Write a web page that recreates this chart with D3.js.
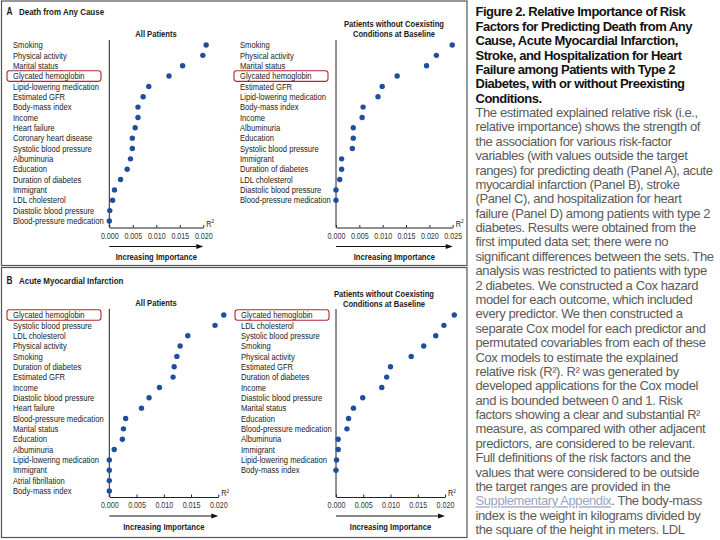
<!DOCTYPE html>
<html><head><meta charset="utf-8">
<script src="https://cdn.jsdelivr.net/npm/d3@7"></script>
<style>
html,body{margin:0;padding:0;background:#fff;}
svg{display:block;}
</style></head><body>
<svg id="c" width="720" height="540"></svg>
<script>
// ---------- DATA ----------
const aAllLabels = ["Smoking","Physical activity","Marital status","Glycated hemoglobin","Lipid-lowering medication","Estimated GFR","Body-mass index","Income","Heart failure","Coronary heart disease","Systolic blood pressure","Albuminuria","Education","Duration of diabetes","Immigrant","LDL cholesterol","Diastolic blood pressure","Blood-pressure medication"];
const aAllValues = [0.0206,0.0199,0.0156,0.0127,0.0084,0.0072,0.0061,0.0061,0.0055,0.0049,0.0049,0.0045,0.0038,0.0024,0.0011,0.0007,0.0001,0.0000];

const aNoCoexLabels = ["Smoking","Physical activity","Marital status","Glycated hemoglobin","Estimated GFR","Lipid-lowering medication","Body-mass index","Income","Albuminuria","Education","Systolic blood pressure","Immigrant","Duration of diabetes","LDL cholesterol","Diastolic blood pressure","Blood-pressure medication"];
const aNoCoexValues = [0.0249,0.0215,0.0194,0.0131,0.0099,0.0090,0.0058,0.0056,0.0037,0.0037,0.0035,0.0012,0.0012,0.0008,0.0000,0.0000];

const bAllLabels = ["Glycated hemoglobin","Systolic blood pressure","LDL cholesterol","Physical activity","Smoking","Duration of diabetes","Estimated GFR","Income","Diastolic blood pressure","Heart failure","Blood-pressure medication","Marital status","Education","Albuminuria","Lipid-lowering medication","Immigrant","Atrial fibrillation","Body-mass index"];
const bAllValues = [0.0210,0.0194,0.0144,0.0130,0.0124,0.0119,0.0117,0.0092,0.0073,0.0059,0.0030,0.0026,0.0024,0.0009,0.0000,0.0000,0.0000,0.0000];

const bNoCoexLabels = ["Glycated hemoglobin","LDL cholesterol","Systolic blood pressure","Smoking","Physical activity","Estimated GFR","Duration of diabetes","Income","Diastolic blood pressure","Marital status","Education","Blood-pressure medication","Albuminuria","Immigrant","Lipid-lowering medication","Body-mass index"];
const bNoCoexValues = [0.0217,0.0198,0.0183,0.0161,0.0138,0.0100,0.0093,0.0084,0.0049,0.0032,0.0023,0.0020,0.0004,0.0004,0.0001,0.0000];

const ticksA = [0,0.005,0.010,0.015,0.020];
const ticksA2 = [0,0.005,0.010,0.015,0.020,0.025];
const ticksB = [0,0.005,0.010,0.015,0.020];
const highlightLabel = "Glycated hemoglobin";

const captionTitle = [
  "Figure 2. Relative Importance of Risk",
  "Factors for Predicting Death from Any",
  "Cause, Acute Myocardial Infarction,",
  "Stroke, and Hospitalization for Heart",
  "Failure among Patients with Type 2",
  "Diabetes, with or without Preexisting",
  "Conditions."
];
const captionBody = [
  "The estimated explained relative risk (i.e.,",
  "relative importance) shows the strength of",
  "the association for various risk-factor",
  "variables (with values outside the target",
  "ranges) for predicting death (Panel A), acute",
  "myocardial infarction (Panel B), stroke",
  "(Panel C), and hospitalization for heart",
  "failure (Panel D) among patients with type 2",
  "diabetes. Results were obtained from the",
  "first imputed data set; there were no",
  "significant differences between the sets. The",
  "analysis was restricted to patients with type",
  "2 diabetes. We constructed a Cox hazard",
  "model for each outcome, which included",
  "every predictor. We then constructed a",
  "separate Cox model for each predictor and",
  "permutated covariables from each of these",
  "Cox models to estimate the explained",
  "relative risk (R²). R² was generated by",
  "developed applications for the Cox model",
  "and is bounded between 0 and 1. Risk",
  "factors showing a clear and substantial R²",
  "measure, as compared with other adjacent",
  "predictors, are considered to be relevant.",
  "Full definitions of the risk factors and the",
  "values that were considered to be outside",
  "the target ranges are provided in the",
  "@LINK@. The body-mass",
  "index is the weight in kilograms divided by",
  "the square of the height in meters. LDL"
];

// ---------- DRAW ----------
const svg = d3.select("#c");
const SANS = "'Liberation Sans',Arial,sans-serif";
const SX = 0.83;           // horizontal condensing of the figure's labels
const INK = "#1b1b1b";
const DOT = "#1f4f9c";
const ROW = 10.35;

// condensed text helper
function ntext(parent, x, y, str, size, opts = {}) {
  const g = parent.append("g").attr("transform", `translate(${x},${y}) scale(${SX},1)`);
  const t = g.append("text").attr("x", 0).attr("y", 0)
    .attr("font-family", SANS).attr("font-size", size)
    .attr("fill", opts.fill || INK)
    .attr("font-weight", opts.bold ? "bold" : "normal")
    .attr("text-anchor", opts.anchor || "start");
  if (str !== null) t.text(str);
  return t;
}

// panel frames
function frame(y0, y1) {
  svg.append("rect").attr("x", 1.5).attr("y", y0).attr("width", 465.5).attr("height", y1 - y0)
    .attr("fill", "none").attr("stroke", "#555").attr("stroke-width", 1.2);
}
frame(1, 265.5);
frame(267.5, 537.5);

function panelTitle(letter, title, y) {
  ntext(svg, 6.5, y, letter, 10, {bold: true});
  ntext(svg, 19, y, title, 9.6, {bold: true});
}
panelTitle("A", "Death from Any Cause", 14.5);
panelTitle("B", "Acute Myocardial Infarction", 284);

function subTitle(lines, cx, y) {
  lines.forEach((l, i) => ntext(svg, cx, y + i * 10.2, l, 9.2, {bold: true, anchor: "middle"}));
}
subTitle(["All Patients"], 156, 36.5);
subTitle(["Patients without Coexisting", "Conditions at Baseline"], 394, 26.5);
subTitle(["All Patients"], 156, 306);
subTitle(["Patients without Coexisting", "Conditions at Baseline"], 384, 296.5);

function plot(cfg) {
  const g = svg.append("g");
  const y = d3.scalePoint().domain(cfg.labels)
    .range([cfg.top, cfg.top + (cfg.labels.length - 1) * ROW]);
  const x = d3.scaleLinear().domain([0, cfg.max]).range([cfg.x0, cfg.x1]);

  // row labels
  cfg.labels.forEach(d => ntext(g, cfg.labelX, y(d) + 3.2, d, 9.2));

  // highlight box
  g.append("rect").attr("x", cfg.labelX - 6).attr("y", y(highlightLabel) - 5.3)
    .attr("width", 94).attr("height", 10.6).attr("rx", 2.5)
    .attr("fill", "none").attr("stroke", "#b0282d").attr("stroke-width", 1.1);

  // vertical zero line
  g.append("line").attr("x1", x(0)).attr("x2", x(0)).attr("y1", cfg.vTop).attr("y2", cfg.axisY)
    .attr("stroke", "#222").attr("stroke-width", 1);

  // horizontal axis
  const ax = d3.axisBottom(x).tickValues(cfg.ticks).tickSize(-2.5).tickSizeOuter(0)
    .tickPadding(5).tickFormat(d3.format(".3f"));
  const ag = g.append("g").attr("transform", `translate(0,${cfg.axisY})`).call(ax);
  ag.select(".domain").attr("stroke", "#222").attr("stroke-width", 1);
  ag.selectAll(".tick line").attr("stroke", "#222");
  ag.selectAll(".tick text").attr("font-family", SANS).attr("font-size", 8.6)
    .attr("fill", "#333").attr("transform", `scale(${SX},1)`);

  // R² label
  const r = ntext(g, x(cfg.max) + 3, cfg.axisY - 1, null, 8.8, {fill: "#222"});
  r.append("tspan").text("R");
  r.append("tspan").attr("font-size", 5.8).attr("dy", -3.5).text("2");

  // arrow
  const ay = cfg.axisY + 19;
  const xe = x(cfg.max);
  g.append("line").attr("x1", x(0)).attr("x2", xe - 5).attr("y1", ay).attr("y2", ay)
    .attr("stroke", "#111").attr("stroke-width", 1.1);
  g.append("path").attr("d", `M${xe},${ay} L${xe - 7},${ay - 2.4} L${xe - 7},${ay + 2.4} Z`).attr("fill", "#111");

  ntext(g, (x(0) + xe) / 2, cfg.axisY + 32.5, "Increasing Importance", 9.2, {bold: true, anchor: "middle"});

  // dots
  g.selectAll("circle").data(cfg.values).join("circle")
    .attr("cx", d => x(d)).attr("cy", (d, i) => y(cfg.labels[i])).attr("r", 2.7)
    .attr("fill", DOT);
}

plot({labels: aAllLabels, values: aAllValues, max: 0.020, ticks: ticksA,
      x0: 109.3, x1: 203.3, labelX: 13, top: 45, vTop: 40, axisY: 227.5});
plot({labels: aNoCoexLabels, values: aNoCoexValues, max: 0.025, ticks: ticksA2,
      x0: 336, x1: 452.7, labelX: 240, top: 45, vTop: 40, axisY: 227.5});
plot({labels: bAllLabels, values: bAllValues, max: 0.020, ticks: ticksB,
      x0: 109.3, x1: 218.3, labelX: 13, top: 315, vTop: 309, axisY: 497});
plot({labels: bNoCoexLabels, values: bNoCoexValues, max: 0.020, ticks: ticksB,
      x0: 336, x1: 445, labelX: 241, top: 315, vTop: 309, axisY: 497});

// caption text
const LH = 14.38;
const capX = 475.5;
captionTitle.forEach((l, i) => {
  svg.append("text").attr("x", capX).attr("y", 16.4 + i * LH)
    .attr("font-family", SANS).attr("font-size", 13).attr("font-weight", "bold")
    .attr("letter-spacing", -0.5).attr("fill", "#111").text(l);
});
captionBody.forEach((l, j) => {
  const i = j + captionTitle.length;
  const t = svg.append("text").attr("x", capX).attr("y", 16.4 + i * LH)
    .attr("font-family", SANS).attr("font-size", 13)
    .attr("letter-spacing", -0.4).attr("fill", "#5a5a5a");
  if (l.startsWith("@LINK@")) {
    t.append("tspan").attr("fill", "#9aa4c6").attr("text-decoration", "underline").text("Supplementary Appendix");
    t.append("tspan").text(l.replace("@LINK@", ""));
  } else {
    t.text(l);
  }
});
</script>
</body></html>
